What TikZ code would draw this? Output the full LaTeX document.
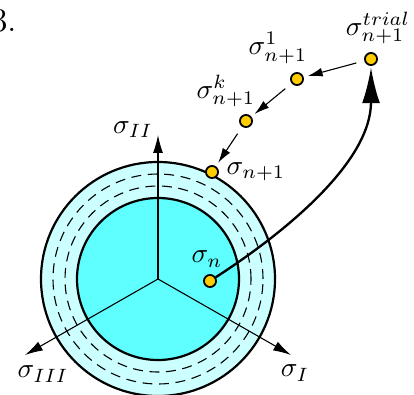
\documentclass[tikz,border=0pt]{standalone}
\usetikzlibrary{arrows.meta,positioning}
\definecolor{core}{HTML}{5FFFFF}
\definecolor{band}{HTML}{CCFFFF}
\definecolor{state}{HTML}{FFCC00}
\tikzset{
  dot/.style={circle, draw, fill=state, line width=0.65pt, minimum size=4.4pt, inner sep=0pt},
  lbl/.style={inner sep=0pt},
  axis/.style={-{Latex[length=6.5pt,width=3.6pt]}, line width=0.4pt},
  iter/.style={-{Latex[length=5.4pt,width=3.2pt]}, line width=0.4pt, shorten <=3pt, shorten >=1.5pt},
  ret/.style={-{Latex[length=13pt,width=6.5pt]}, line width=0.85pt, shorten >=0.5pt},
  rim/.style={line width=0.8pt},
  trace/.style={line width=0.4pt, dash pattern=on 3.6pt off 2.4pt},
}

\begin{document}
\begin{tikzpicture}[x=0.363pt, y=0.363pt]
    \useasboundingbox (0,0) rectangle (414,394);
    \coordinate (o) at (158,115);
    % yield surfaces
    \fill[band] (o) circle (117);
    \draw[trace] (o) circle (105);
    \draw[trace] (o) circle (93);
    \draw[rim] (o) circle (117);
    \draw[rim, fill=core] (o) circle (81);
    % principal axes
    \coordinate (s2) at (158,259);
    \coordinate (s3) at (25,39);
    \coordinate (s1) at (291,39);
    \draw[axis] (o) -- (s2);
    \draw[axis] (o) -- (s3);
    \draw[axis] (o) -- (s1);
    \node[lbl] (l2) at (133,264) {$\sigma_{II}$};
    \node[lbl] (l3) at (43,20) {$\sigma_{III}$};
    \node[lbl] (l1) at (295,21) {$\sigma_{I}$};
    % stress states
    \node[dot] (pn) at (210,113) {};
    \node[dot] (pn1) at (212,222) {};
    \node[dot] (pk) at (246,273) {};
    \node[dot] (p1) at (297,315) {};
    \node[dot] (ptr) at (371,335) {};
    \node[lbl] (ln) at (207,135) {$\sigma_n$};
    \node[lbl] (ln1) at (256,222) {$\sigma_{n+1}$};
    \node[lbl] (lk) at (226,303) {$\sigma^k_{n+1}$};
    \node[lbl] (l1s) at (278,346) {$\sigma^1_{n+1}$};
    \node[lbl] (ltr) at (378,366) {$\sigma^{trial}_{n+1}$};
    \node[lbl, anchor=east, font=\large] (tag) at (17,373) {3.};
    % trial step and return mapping
    \draw[ret] (pn) .. controls +(33:100) and +(0,-100) .. (ptr);
    \draw[iter] (ptr) -- (p1);
    \draw[iter] (p1) -- (pk);
    \draw[iter] (pk) -- (pn1);
  \end{tikzpicture}
\end{document}
